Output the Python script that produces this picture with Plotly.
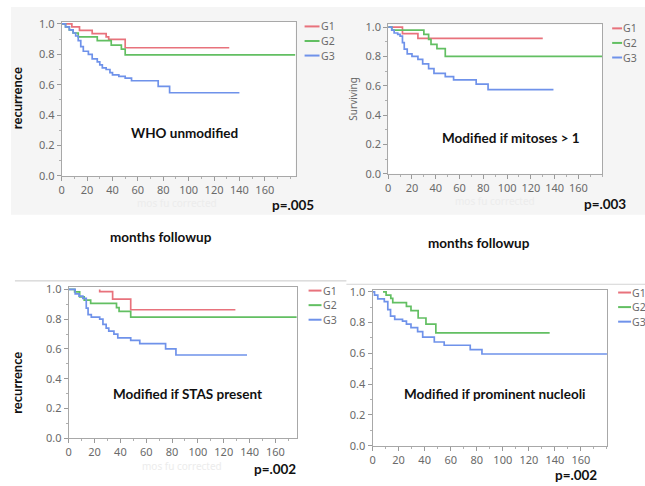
import plotly.graph_objects as go

W, H = 645, 486

# ---------------- data ----------------
group_names = ["G1", "G2", "G3"]
group_colors = ["#e8727c", "#62bf62", "#6f92ea"]

x_tick_vals = [0, 20, 40, 60, 80, 100, 120, 140, 160]
x_tick_text = ["0", "20", "40", "60", "80", "100", "120", "140", "160"]
y_tick_vals = [0.0, 0.2, 0.4, 0.6, 0.8, 1.0]
y_tick_text = ["0.0", "0.2", "0.4", "0.6", "0.8", "1.0"]

# Panel 1: WHO unmodified
p1_g1_t = [0, 8, 14, 24, 35, 37, 50, 132]
p1_g1_s = [1, 0.98, 0.957, 0.936, 0.915, 0.898, 0.843, 0.843]
p1_g2_t = [0, 3, 6, 9, 13, 28, 39, 47, 50, 184]
p1_g2_s = [1, 0.98, 0.96, 0.94, 0.915, 0.89, 0.86, 0.834, 0.796, 0.796]
p1_g3_t = [0, 3, 6, 9, 11, 13, 15, 17, 21, 24, 28, 30, 32, 35, 38, 40, 45, 50, 55, 76, 85, 140]
p1_g3_s = [1, 0.98, 0.96, 0.94, 0.92, 0.89, 0.85, 0.82, 0.80, 0.77, 0.75, 0.73, 0.71, 0.70, 0.68, 0.665, 0.655, 0.643, 0.626, 0.589, 0.547, 0.547]

# Panel 2: Modified if mitoses > 1
p2_g1_t = [0, 12, 25, 130]
p2_g1_s = [1, 0.956, 0.923, 0.923]
p2_g2_t = [0, 3, 30, 34, 36, 41, 48, 180]
p2_g2_s = [1, 0.98, 0.95, 0.916, 0.883, 0.854, 0.80, 0.80]
p2_g3_t = [0, 3, 5, 8, 10, 12, 13.5, 16, 20, 25, 29, 34, 38.5, 48, 55, 74, 84, 139]
p2_g3_s = [1, 0.98, 0.96, 0.95, 0.938, 0.894, 0.85, 0.817, 0.80, 0.78, 0.75, 0.717, 0.684, 0.662, 0.64, 0.611, 0.574, 0.574]

# Panel 3: Modified if STAS present
p3_g1_t = [24, 24, 34, 48, 129]
p3_g1_s = [1.0, 0.985, 0.935, 0.863, 0.863]
p3_g2_t = [0, 4.6, 8.5, 12, 17, 37, 39, 48, 177]
p3_g2_s = [1, 0.983, 0.95, 0.928, 0.906, 0.878, 0.852, 0.813, 0.813]
p3_g3_t = [0, 5, 8, 11, 13.6, 15, 17.5, 24, 26.5, 29, 31, 35, 38, 48, 55, 75, 83, 138]
p3_g3_s = [1, 0.97, 0.955, 0.94, 0.874, 0.83, 0.813, 0.80, 0.765, 0.74, 0.72, 0.70, 0.674, 0.657, 0.635, 0.60, 0.559, 0.559]

# Panel 4: Modified if prominent nucleoli (no G1 curve)
p4_g2_t = [8, 10.4, 14, 15.5, 26, 29.5, 35, 41, 48.6, 136]
p4_g2_s = [1, 0.979, 0.958, 0.93, 0.905, 0.878, 0.83, 0.79, 0.733, 0.733]
p4_g3_t = [0, 1.5, 4, 9, 11.7, 13.8, 17, 23, 26, 29.5, 34.6, 38.5, 47.4, 55, 75, 84, 180]
p4_g3_s = [1, 0.979, 0.954, 0.937, 0.884, 0.842, 0.821, 0.81, 0.79, 0.768, 0.741, 0.705, 0.674, 0.653, 0.625, 0.596, 0.596]

panel_titles = ["WHO unmodified", "Modified if mitoses > 1",
                "Modified if STAS present", "Modified if prominent nucleoli"]
p_values = ["p=.005", "p=.003", "p=.002", "p=.002"]
y_titles = ["recurrence", "Surviving", "recurrence", ""]
x_caption = "months followup"
faint_caption = "mos fu corrected"

panels = [
    [(p1_g1_t, p1_g1_s), (p1_g2_t, p1_g2_s), (p1_g3_t, p1_g3_s)],
    [(p2_g1_t, p2_g1_s), (p2_g2_t, p2_g2_s), (p2_g3_t, p2_g3_s)],
    [(p3_g1_t, p3_g1_s), (p3_g2_t, p3_g2_s), (p3_g3_t, p3_g3_s)],
    [None, (p4_g2_t, p4_g2_s), (p4_g3_t, p4_g3_s)],
]

# ---------------- layout geometry (pixels) ----------------
geo = [
    dict(l=59, r=294, t=15, b=174, xmax=184.3, ymax=1.015),
    dict(l=387, r=602, t=18, b=171.7, xmax=180, ymax=1.018),
    dict(l=66, r=295, t=288, b=444, xmax=176.4, ymax=1.018),
    dict(l=371.3, r=607.3, t=291.7, b=451.7, xmax=180.4, ymax=1.01),
]

def px(x):
    return x / W

def py(y):
    return 1 - y / H

fig = go.Figure()
layout = dict(
    width=W, height=H, margin=dict(l=0, r=0, t=0, b=0),
    paper_bgcolor="white", plot_bgcolor="white", showlegend=False,
    font=dict(family="Noto Sans", color="#6a6a6a", size=11),
)
shapes = []
annotations = []

def note(x, y, text, font, angle=0):
    annotations.append(dict(x=px(x), y=py(y), xref="paper", yref="paper", text=text,
                            showarrow=False, xanchor="center", yanchor="middle",
                            textangle=angle, font=font))

# background of the top two pasted images
shapes.append(dict(type="rect", xref="paper", yref="paper", layer="below",
                   x0=px(8), x1=px(645), y0=py(214), y1=py(0),
                   fillcolor="#f5f5f5", line=dict(width=0)))
# separator lines of the bottom images
shapes.append(dict(type="line", xref="paper", yref="paper", x0=px(12), x1=px(345),
                   y0=py(282), y1=py(282), line=dict(color="#c8c8c8", width=1)))
shapes.append(dict(type="line", xref="paper", yref="paper", x0=px(345), x1=px(645),
                   y0=py(285.5), y1=py(285.5), line=dict(color="#d4d4d4", width=1)))

for i, g in enumerate(geo):
    k = "" if i == 0 else str(i + 1)
    xa, ya = "x" + k, "y" + k
    shapes.append(dict(type="rect", xref="paper", yref="paper", layer="below",
                       x0=px(g["l"]), x1=px(g["r"]), y0=py(g["b"]), y1=py(g["t"]),
                       fillcolor="white", line=dict(width=0)))
    layout["xaxis" + k] = dict(
        domain=[px(g["l"]), px(g["r"])], anchor=ya, range=[0, g["xmax"]],
        tickvals=x_tick_vals, ticktext=x_tick_text, ticks="outside", ticklen=4,
        tickcolor="#9a9a9a", showline=True, linecolor="#a8a8a8", linewidth=1,
        mirror=True, showgrid=False, zeroline=False,
        minor=dict(dtick=10, ticks="outside", ticklen=2, tickcolor="#b0b0b0"),
        tickfont=dict(size=11, color="#6a6a6a"), fixedrange=True)
    layout["yaxis" + k] = dict(
        domain=[py(g["b"]), py(g["t"])], anchor=xa, range=[0, g["ymax"]],
        tickvals=y_tick_vals, ticktext=y_tick_text, ticks="outside", ticklen=4,
        tickcolor="#9a9a9a", showline=True, linecolor="#a8a8a8", linewidth=1,
        mirror=True, showgrid=False, zeroline=False,
        minor=dict(dtick=0.1, ticks="outside", ticklen=2, tickcolor="#b0b0b0"),
        tickfont=dict(size=11, color="#6a6a6a"), fixedrange=True)
    for j, series in enumerate(panels[i]):
        if series is None:
            continue
        t, s = series
        fig.add_trace(go.Scatter(x=t, y=s, mode="lines", line_shape="hv",
                                 line=dict(color=group_colors[j], width=1.7),
                                 name=group_names[j], xaxis=xa, yaxis=ya,
                                 hoverinfo="skip"))

# legends (drawn manually, as in the pasted images)
legend_pos = [
    dict(x0=303, x1=318, ys=[20, 35, 50]),
    dict(x0=612, x1=622, ys=[22, 37, 52]),
    dict(x0=307, x1=320, ys=[292, 307, 322]),
    dict(x0=618, x1=631, ys=[294, 309, 324]),
]
for lp in legend_pos:
    for j, name in enumerate(group_names):
        y = lp["ys"][j]
        shapes.append(dict(type="line", xref="paper", yref="paper",
                           x0=px(lp["x0"]), x1=px(lp["x1"]), y0=py(y), y1=py(y),
                           line=dict(color=group_colors[j], width=2)))
        annotations.append(dict(x=px(lp["x1"]), y=py(y), xref="paper", yref="paper",
                                text=name, showarrow=False, xanchor="left",
                                yanchor="middle", borderpad=0,
                                font=dict(size=10.5, color="#6a6a6a", family="Noto Sans")))

bold = dict(family="Lato", size=13.5, color="#111111")
title_pos = [(182, 130), (510, 135), (185, 398), (494, 398)]
p_pos = [(291, 204), (605, 203), (273, 476), (576, 482)]
for i in range(4):
    note(title_pos[i][0], title_pos[i][1], "<b>%s</b>" % panel_titles[i], bold)
    note(p_pos[i][0], p_pos[i][1], "<b>%s</b>" % p_values[i], bold)

# faint secondary axis captions (blurred in original)
for (x, y) in [(175, 202), (494, 200), (180, 473)]:
    note(x, y, faint_caption, dict(family="Noto Sans", size=10, color="#ececec"))

for (x, y) in [(159, 237), (478, 243)]:
    note(x, y, "<b>%s</b>" % x_caption, bold)

# y axis titles
note(14, 94, "<b>%s</b>" % y_titles[0], dict(family="Lato", size=13, color="#111111"), -90)
note(352, 95, y_titles[1], dict(family="Noto Sans", size=10, color="#6a6a6a"), -90)
note(14, 387, "<b>%s</b>" % y_titles[2], dict(family="Lato", size=13, color="#111111"), -90)

layout["shapes"] = shapes
layout["annotations"] = annotations
fig.update_layout(**layout)
fig.write_html("out.html")
